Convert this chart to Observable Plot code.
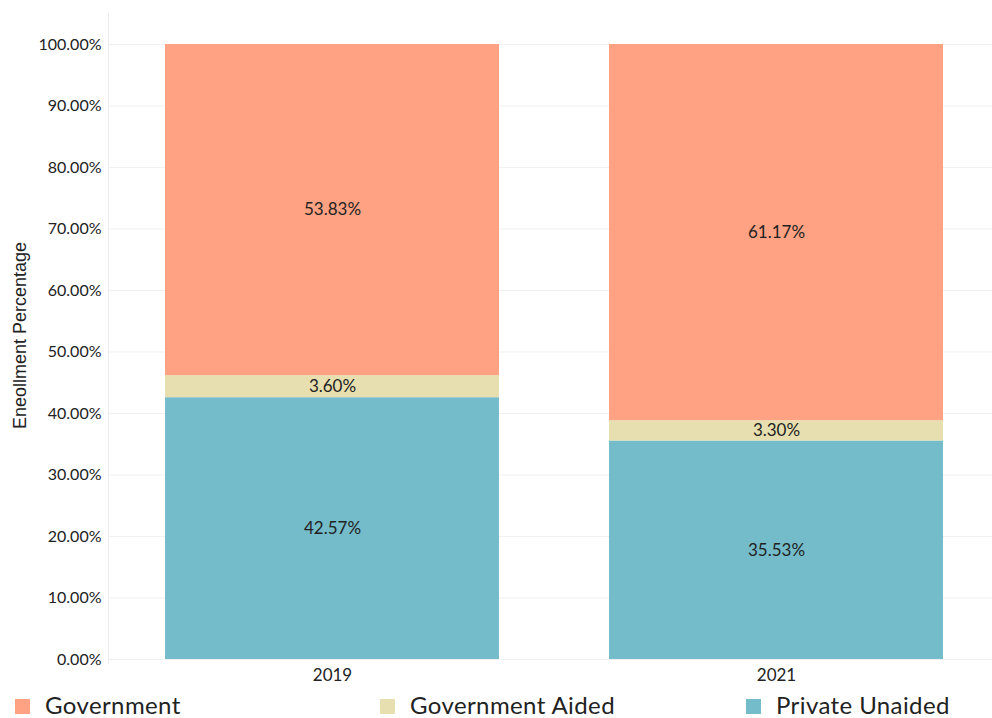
<!DOCTYPE html>
<html><head><meta charset="utf-8">
<script src="https://cdn.jsdelivr.net/npm/d3@7"></script>
<script src="https://cdn.jsdelivr.net/npm/@observablehq/plot@0.6"></script>
<style>
html,body{margin:0;padding:0;background:#fff;overflow:hidden;font-family:Lato,"Noto Sans",sans-serif}
#legend{position:relative;height:28px;width:992px}
.item{position:absolute;top:0;height:28px;display:flex;align-items:center;font-size:24px;letter-spacing:0.4px;color:#222}
.sw{width:15px;height:15px;margin-right:15px;margin-top:5px}
</style></head><body>
<div id="chart"></div>
<div id="legend"></div>
<script>
const years = ["2019", "2021"];
const categories = ["Private Unaided", "Government Aided", "Government"];
const privateUnaided = [42.57, 35.53];
const governmentAided = [3.60, 3.30];
const government = [53.83, 61.17];
const colors = ["#74BCCA", "#E8DFB0", "#FFA283"];
const yTicks = [0, 10, 20, 30, 40, 50, 60, 70, 80, 90, 100];
const legendOrder = ["Government", "Government Aided", "Private Unaided"];

const series = [privateUnaided, governmentAided, government];
const rows = [];
years.forEach((yr, i) => {
  categories.forEach((c, j) => rows.push({year: yr, type: c, value: series[j][i]}));
});
const fmt = d => d.toFixed(2) + "%";

const chart = Plot.plot({
  width: 992,
  height: 690,
  marginLeft: 108,
  marginRight: 0,
  marginTop: 13,
  marginBottom: 27,
  style: {fontFamily: "Lato, 'Noto Sans', sans-serif", color: "#222", background: "#fff"},
  x: {domain: years, range: [108, 1000], paddingInner: 0.247, paddingOuter: 0.126, label: null},
  y: {domain: [-0.65, 105.04], label: null},
  color: {domain: categories, range: colors},
  marks: [
    Plot.ruleY(yTicks, {stroke: "#f0f0f0", strokeWidth: 1}),
    Plot.frame({anchor: "left", stroke: "#ececec"}),
    Plot.barY(rows, {x: "year", y: "value", fill: "type", order: categories}),
    Plot.text(rows, Plot.stackY({x: "year", y: "value", z: "type", order: categories, text: d => fmt(d.value), fontSize: 17, fill: "#222"})),
    Plot.axisY({ticks: yTicks, tickFormat: fmt, tickSize: 0, tickPadding: 7, fontSize: 16, label: null}),
    Plot.axisX({tickSize: 0, tickPadding: 5, fontSize: 17, label: null}),
    Plot.text(["Eneollment Percentage"], {frameAnchor: "left", dx: -88, dy: -3, rotate: -90, textAnchor: "middle", lineAnchor: "middle", fontSize: 18, fontFamily: "'Liberation Sans', Arial, sans-serif", fill: "#222"})
  ]
});
document.getElementById("chart").appendChild(chart);

const leg = document.getElementById("legend");
const lefts = [15, 380, 746];
legendOrder.forEach((name, i) => {
  const it = document.createElement("div");
  it.className = "item";
  it.style.left = lefts[i] + "px";
  const sw = document.createElement("div");
  sw.className = "sw";
  sw.style.background = colors[categories.indexOf(name)];
  const t = document.createElement("span");
  t.textContent = name;
  it.appendChild(sw); it.appendChild(t);
  leg.appendChild(it);
});
</script>
</body></html>
